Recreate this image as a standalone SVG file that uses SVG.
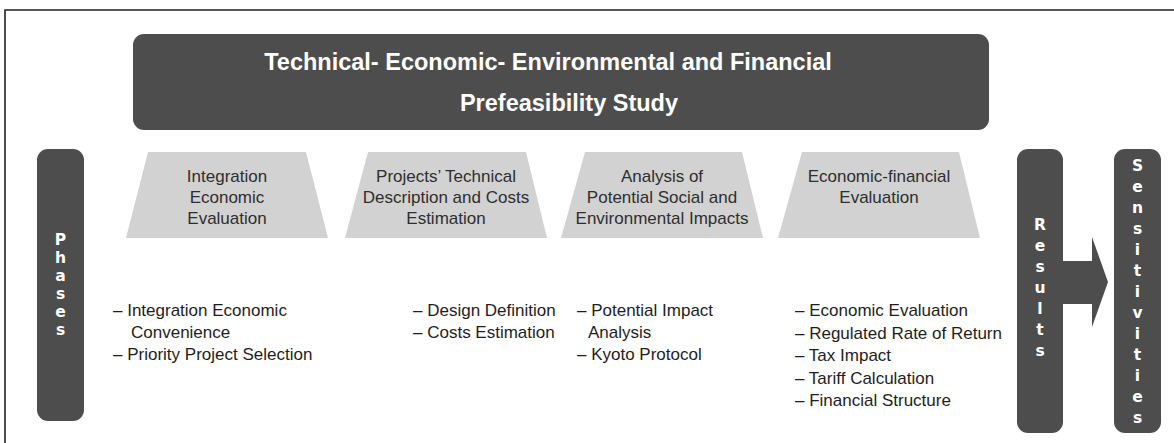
<svg xmlns="http://www.w3.org/2000/svg" width="1174" height="443" viewBox="0 0 1174 443">
<style>
.dark{fill:#4d4d4d}
.trap{fill:#d2d2d2}
.title{font-family:"Liberation Sans",Arial,sans-serif;font-weight:bold;font-size:23.5px;fill:#ffffff;text-anchor:middle}
.tt{font-family:"Liberation Sans",Arial,sans-serif;font-size:17px;fill:#2e2e2e;text-anchor:middle}
.bl{font-family:"Liberation Sans",Arial,sans-serif;font-size:17px;fill:#1e1e1e}
.vt{font-family:"DejaVu Sans",sans-serif;font-weight:bold;font-size:15.5px;fill:#ffffff;text-anchor:middle}
</style>
<rect x="0" y="0" width="1174" height="443" fill="#ffffff"/>
<path d="M5,443 V10 H1174" fill="none" stroke="#222222" stroke-width="1.6"/>
<g id="title">
<rect class="dark" x="133" y="34" width="856" height="96" rx="11"/>
<text class="title" x="548" y="70">Technical- Economic- Environmental and Financial</text>
<text class="title" x="569" y="111">Prefeasibility Study</text>
</g>
<g id="phases">
<rect class="dark" x="37" y="149" width="47" height="272" rx="11"/>
<text class="vt"><tspan x="60.5" y="245">P</tspan><tspan x="60.5" y="263">h</tspan><tspan x="60.5" y="281">a</tspan><tspan x="60.5" y="299">s</tspan><tspan x="60.5" y="317">e</tspan><tspan x="60.5" y="335">s</tspan></text>
</g>
<g id="phase1">
<polygon class="trap" points="148,152 306,152 328,238 126,238"/>
<text class="tt" x="227" y="182">Integration</text>
<text class="tt" x="227" y="203">Economic</text>
<text class="tt" x="227" y="224">Evaluation</text>
</g>
<g id="phase2">
<polygon class="trap" points="368,152 526,152 547,238 345,238"/>
<text class="tt" x="446" y="182">Projects’ Technical</text>
<text class="tt" x="446" y="203">Description and Costs</text>
<text class="tt" x="446" y="224">Estimation</text>
</g>
<g id="phase3">
<polygon class="trap" points="585,152 742,152 763,238 561,238"/>
<text class="tt" x="662" y="182">Analysis of</text>
<text class="tt" x="662" y="203">Potential Social and</text>
<text class="tt" x="662" y="224">Environmental Impacts</text>
</g>
<g id="phase4">
<polygon class="trap" points="802,152 959,152 980,238 778,238"/>
<text class="tt" x="879" y="182">Economic-financial</text>
<text class="tt" x="879" y="203">Evaluation</text>
</g>
<g id="list1">
<text class="bl" x="113" y="316">– Integration Economic</text>
<text class="bl" x="131" y="338">Convenience</text>
<text class="bl" x="113" y="360">– Priority Project Selection</text>
</g>
<g id="list2">
<text class="bl" x="413" y="316">– Design Definition</text>
<text class="bl" x="413" y="338">– Costs Estimation</text>
</g>
<g id="list3">
<text class="bl" x="577" y="316">– Potential Impact</text>
<text class="bl" x="588" y="338">Analysis</text>
<text class="bl" x="577" y="360">– Kyoto Protocol</text>
</g>
<g id="list4">
<text class="bl" x="795" y="316">– Economic Evaluation</text>
<text class="bl" x="795" y="338.5">– Regulated Rate of Return</text>
<text class="bl" x="795" y="361">– Tax Impact</text>
<text class="bl" x="795" y="383.5">– Tariff Calculation</text>
<text class="bl" x="795" y="406">– Financial Structure</text>
</g>
<g id="results">
<rect class="dark" x="1017" y="149" width="46" height="284" rx="11"/>
<text class="vt"><tspan x="1040" y="230">R</tspan><tspan x="1040" y="251">e</tspan><tspan x="1040" y="272">s</tspan><tspan x="1040" y="293">u</tspan><tspan x="1040" y="314">l</tspan><tspan x="1040" y="335">t</tspan><tspan x="1040" y="356">s</tspan></text>
</g>
<g id="connectors">
<polygon class="dark" points="1060,261 1092,261 1092,237 1108,282 1092,327 1092,304 1060,304"/>
</g>
<g id="sensitivities">
<rect class="dark" x="1114" y="149" width="47" height="284" rx="11"/>
<text class="vt"><tspan x="1137.5" y="171">S</tspan><tspan x="1137.5" y="192">e</tspan><tspan x="1137.5" y="213">n</tspan><tspan x="1137.5" y="234">s</tspan><tspan x="1137.5" y="255">i</tspan><tspan x="1137.5" y="276">t</tspan><tspan x="1137.5" y="297">i</tspan><tspan x="1137.5" y="318">v</tspan><tspan x="1137.5" y="339">i</tspan><tspan x="1137.5" y="360">t</tspan><tspan x="1137.5" y="381">i</tspan><tspan x="1137.5" y="402">e</tspan><tspan x="1137.5" y="423">s</tspan></text>
</g>
</svg>
